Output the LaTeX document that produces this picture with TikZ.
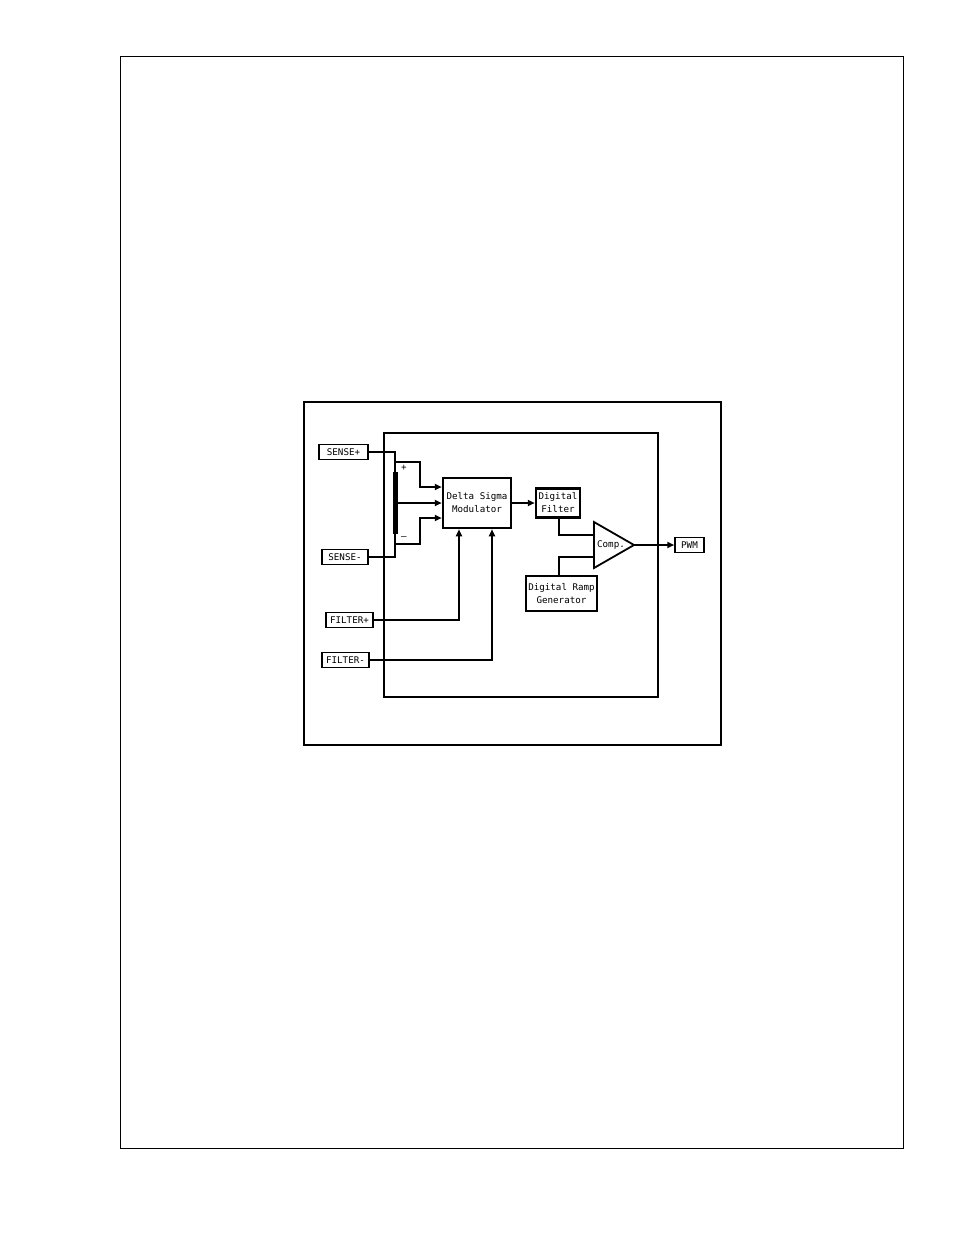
\documentclass[tikz,border=0pt]{standalone}
\usepackage{fontspec}
\setmainfont{DejaVu Sans Mono}
\usepackage{tikz}
\usetikzlibrary{arrows.meta}

\begin{document}
\begin{tikzpicture}[x=1pt, y=-1pt, font=\fontsize{9.2}{13}\selectfont,
		pin/.style = {draw, line width=1.5pt, inner sep=0pt, minimum height=15pt},
		block/.style = {draw, line width=2.5pt, align=center, inner sep=0pt},
		wire/.style = {line width=1.8pt},
		arr/.style = {wire, -{Triangle[length=7pt,width=6pt]}}]
		\useasboundingbox (0,0) rectangle (954,1235);
		% frames
		\draw[line width=1pt] (120,56) rectangle (903,1148);
		\draw[line width=2.8pt] (304,402) rectangle (721,745);
		\draw[line width=1.8pt] (384,433) rectangle (658,697);
		% pins
		\node[pin, minimum width=49pt] (sp) at (343.5,452) {SENSE+};
		\node[pin, minimum width=46pt] (sm) at (345,557) {SENSE-};
		\node[pin, minimum width=47pt] (fp) at (349.5,620) {FILTER+};
		\node[pin, minimum width=47pt] (fm) at (345.5,660) {FILTER-};
		\node[pin, minimum width=29pt] (pwm) at (689.5,545) {PWM};
		% blocks
		\node[block, minimum width=68pt, minimum height=50pt] (dsm) at (477,503) {Delta Sigma\\Modulator};
		\node[block, minimum width=44pt, minimum height=29pt] (df) at (558,503) {Digital\\Filter};
		\node[block, minimum width=71pt, minimum height=35pt] (ramp) at (561.5,593.5) {Digital Ramp\\Generator};
		\node[fill, minimum width=5pt, minimum height=62pt, inner sep=0pt] (bar) at (395,503) {};
		% comparator
		\coordinate (cin1) at (594,535);
		\coordinate (cin2) at (594,557);
		\coordinate (cout) at (634,545);
		\draw[line width=1.8pt, line join=miter] (594,522) -- (cout) -- (594,568) -- cycle;
		\node (comp) at (611,545) {Comp.};
		\node (plus) at (404,468) {+};
		\node (minus) at (404,538) {--};
		% sense inputs
		\coordinate (tp) at (395,462);
		\coordinate (bt) at (395,544);
		\draw[wire] (sp.east) -| (bar.north);
		\draw[wire] (sm.east) -| (bar.south);
		\draw[arr] (tp) -- (420,462) |- ([yshift=16pt]dsm.west);
		\draw[arr] (bar.east |- dsm.west) -- (dsm.west);
		\draw[arr] (bt) -- (420,544) |- ([yshift=-15pt]dsm.west);
		% filter inputs
		\draw[arr] (fp.east) -| ([xshift=-18pt]dsm.south);
		\draw[arr] (fm.east) -| ([xshift=15pt]dsm.south);
		% signal chain
		\draw[arr] (dsm.east) -- (df.west);
		\draw[wire] ([xshift=1pt]df.south) |- (cin1);
		\draw[wire] ([xshift=-2.5pt]ramp.north) |- (cin2);
		\draw[arr] (cout) -- (pwm.west);
	\end{tikzpicture}
\end{document}
